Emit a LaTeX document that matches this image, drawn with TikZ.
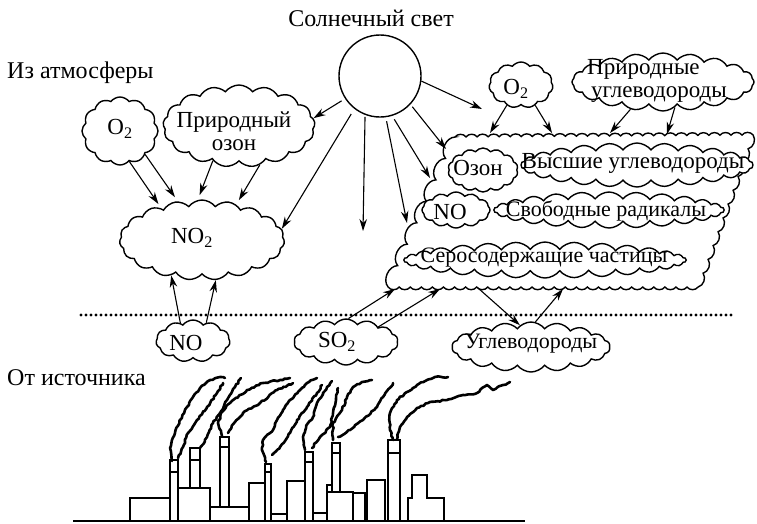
\documentclass[tikz,border=0pt]{standalone}
\usepackage{fontspec}
\setmainfont{Liberation Serif}
\usetikzlibrary{shapes.symbols,arrows.meta,decorations.pathmorphing,calc}

\begin{document}
\begin{tikzpicture}[x=1pt,y=-1pt,
  txt/.style={font=\fontsize{23}{23}\selectfont, inner sep=0pt, align=center},
  bigtxt/.style={font=\fontsize{24}{24}\selectfont, inner sep=0pt},
  smalltxt/.style={font=\fontsize{22}{22}\selectfont},
  puff/.style={cloud, draw, fill=white, line width=1.4pt, cloud ignores aspect,
               cloud puff arc=105, inner sep=0pt},
  arr/.style={line width=1.1pt, -{Stealth[length=12pt,width=7.5pt]}},
  bld/.style={line width=1.4pt, fill=white},
  smoke/.style={line width=2.6pt, line cap=round, line join=round, decorate,
                decoration={random steps, segment length=2.5pt, amplitude=0.8pt}},
  dots/.style={line width=3.3pt, line cap=round, dash pattern=on 0pt off 5pt}
]
\useasboundingbox (0,0) rectangle (757,523);
\pgfmathsetseed{11}

% --- labels -------------------------------------------------------------
\node[bigtxt] (sunlabel) at (371,18) {Солнечный свет};
\node[bigtxt, anchor=west] (atm) at (7,73) {Из атмосферы};
\node[bigtxt, anchor=west] (src) at (7,378) {От источника};

% --- sun ----------------------------------------------------------------
\node[circle, draw, line width=1.4pt, minimum size=82pt, inner sep=0pt] (sun) at (380,76) {};

% --- upper-left clouds --------------------------------------------------
\node[puff, minimum width=76pt, minimum height=68pt, cloud puffs=12,
      label={[txt, yshift=2pt]center:O\textsubscript{2}}] (o2a) at (120,131) {};
\node[puff, minimum width=152pt, minimum height=82pt, cloud puffs=17,
      label={[txt, xshift=-5pt, yshift=-5pt]center:{Природный\\озон}}] (ozn) at (239,126) {};
\node[puff, minimum width=165pt, minimum height=80pt, cloud puffs=19,
      label={[txt, xshift=-10pt, yshift=2pt]center:NO\textsubscript{2}}] (no2) at (202,240) {};

% --- upper-right clouds -------------------------------------------------
\node[puff, minimum width=64pt, minimum height=46pt, cloud puffs=11,
      label={[txt, xshift=-5pt, yshift=-4pt]center:O\textsubscript{2}}] (o2b) at (521,85) {};
\node[puff, minimum width=182pt, minimum height=58pt, cloud puffs=20,
      label={[txt, align=left, xshift=-6pt, yshift=1pt]center:{Природные\\\,углеводороды}}] (pnu) at (663,82) {};

% --- large reaction cloud -----------------------------------------------
\draw[line width=1.4pt, fill=white] (455,137)
  \foreach \i in {1,...,27}{ to[bend left=55] ++(11.04,-0.074) }
  \foreach \i in {1,...,11}{ to[bend left=55] ++(-5,13.82) }
  \foreach \i in {1,...,28}{ to[bend left=55] ++(-11.07,0) }
  \foreach \i in {1,...,7}{ to[bend left=65] ++(9.57,-21.43) }
  -- cycle;
\coordinate (bcO2a) at (490,133);
\coordinate (bcO2b) at (552,133);
\coordinate (bcP1)  at (610,133);
\coordinate (bcP2)  at (667,134);
\coordinate (bcS5)  at (446,149);
\coordinate (bcS6)  at (430,178);
\coordinate (bcS7)  at (407,223);
\coordinate (bcSa)  at (395,289);
\coordinate (bcSb)  at (440,289);
\coordinate (bcUo)  at (478,288);
\coordinate (bcUi)  at (563,289);

\node[puff, minimum width=70pt, minimum height=44pt, cloud puffs=14,
      label={[txt, xshift=-5pt, yshift=2pt]center:Озон}] (ozon) at (483,170) {};
\node[puff, minimum width=232pt, minimum height=44pt, cloud puffs=26,
      label={[txt, xshift=-4pt, yshift=2pt]center:Высшие углеводороды}] (vu) at (637,165) {};
\node[puff, minimum width=68pt, minimum height=36pt, cloud puffs=12,
      label={[txt, xshift=-6pt, yshift=-2pt]center:NO}] (noi) at (456,210) {};
\node[puff, minimum width=230pt, minimum height=36pt, cloud puffs=26,
      label={[txt, smalltxt, xshift=-3pt, yshift=-1pt]center:Свободные радикалы}] (sr) at (609,210) {};
\node[puff, minimum width=282pt, minimum height=36pt, cloud puffs=30,
      label={[txt, smalltxt, xshift=-1pt, yshift=2pt]center:Серосодержащие частицы}] (ssc) at (545,260) {};

% --- emitted clouds -----------------------------------------------------
\node[puff, minimum width=74pt, minimum height=42pt, cloud puffs=11,
      label={[txt, xshift=-7pt, yshift=-2pt]center:NO}] (nob) at (193,341) {};
\node[puff, minimum width=104pt, minimum height=46pt, cloud puffs=14,
      label={[txt, xshift=-9pt]center:SO\textsubscript{2}}] (so2) at (346,342) {};
\node[puff, minimum width=158pt, minimum height=50pt, cloud puffs=18,
      label={[txt, smalltxt, yshift=3pt]center:Углеводороды}] (ugl) at (531,347) {};

% --- boundary between atmosphere and source -----------------------------
\coordinate (dotL) at (81,315);
\coordinate (dotR) at (732,315);
\draw[dots] (dotL) -- (dotR);

% --- sunlight -----------------------------------------------------------
\coordinate (sdown) at (363,231);
\coordinate (sfree) at (482,109);
\draw[arr, shorten <=4pt] (sun.213) -- (ozn.6);
\draw[arr, shorten <=6pt] (sun.232) -- (no2.8);
\draw[arr, shorten <=2pt] (sun.249) -- (sdown);
\draw[arr] (sun.353) -- (sfree);
\draw[arr, shorten <=3pt] (sun.317) -- (bcS5);
\draw[arr, shorten <=4pt] (sun.287) -- (bcS6);
\draw[arr, shorten <=4pt] (sun.278) -- (bcS7);

% --- reactions ----------------------------------------------------------
\draw[arr, shorten >=5pt] (o2a.-73) -- (no2.142);
\draw[arr, shorten >=5pt] (o2a.-43) -- (no2.122);
\draw[arr, shorten >=5pt] (ozn.-127) -- (no2.96);
\draw[arr, shorten >=5pt] (ozn.-62) -- (no2.46);
\draw[arr] (nob.125) -- (no2.-131);
\draw[arr] (nob.54) -- (no2.-71);
\draw[arr] (o2b.-125) -- (bcO2a);
\draw[arr] (o2b.-55) -- (bcO2b);
\draw[arr] (pnu.-140) -- (bcP1);
\draw[arr] (pnu.-65) -- (bcP2);
\draw[arr] (so2.84) -- (bcSa);
\draw[arr] (so2.25) -- (bcSb);
\draw[arr] (bcUo) -- (ugl.117);
\draw[arr] (ugl.80) -- (bcUi);

% --- factory ------------------------------------------------------------
% buildings
\draw[bld] (130,498) rectangle (170,521);
\draw[bld] (178,488) rectangle (210,521);
\draw[bld] (210,507) rectangle (249,521);
\draw[bld] (249,483) rectangle (265,521);
\draw[bld] (271,514) rectangle (287,521);
\draw[bld] (287,481) rectangle (305,521);
\draw[bld] (313,513) rectangle (327,521);
\draw[bld] (327,485) rectangle (332,492);
\draw[bld] (327,492) rectangle (353,521);
\draw[bld] (353,493) rectangle (365,521);
\draw[bld] (367,480) rectangle (385,521);
\draw[bld] (408,521) -- (408,498) -- (412,498) -- (412,475) -- (427,475)
  -- (427,498) -- (444,498) -- (444,521);
% chimneys with caps
\foreach \xa/\xb/\top/\cap/\bot in {170/178/460/472/521, 190/200/448/460/488,
    220/229/437/447/507, 265/271/464/472/521, 305/313/452/462/521,
    332/340/443/453/492, 388/400/440/453/521}{
  \draw[bld] (\xa,\top) rectangle (\xb,\bot);
  \draw[line width=1.4pt] (\xa,\cap) -- (\xb,\cap);
}
\draw[line width=1.4pt] (73,521) -- (525,521);

% smoke plumes
\draw[smoke] plot coordinates {(172,461) (170,448) (175,433) (180,420) (187,407) (193,397) (200,388) (210,380) (220,377) (225,378)};
\draw[smoke] plot coordinates {(178,458) (183,447) (188,433) (197,420) (207,407) (217,393) (223,383)};
\draw[smoke] plot coordinates {(200,448) (207,437) (213,423) (220,413) (227,400) (235,387) (241,378)};
\draw[smoke] plot coordinates {(222,436) (218,423) (222,412) (230,403) (247,390) (263,383) (280,380) (290,378)};
\draw[smoke] plot coordinates {(228,433) (235,422) (243,413) (260,403) (277,390) (293,383)};
\draw[smoke] plot coordinates {(266,462) (262,450) (263,440) (273,430) (277,420) (283,410) (290,400) (300,390) (307,383) (317,378)};
\draw[smoke] plot coordinates {(272,455) (280,447) (290,433) (297,420) (307,407) (317,393) (322,385)};
\draw[smoke] plot coordinates {(305,450) (303,437) (308,423) (313,417) (317,403) (323,393) (327,387) (332,381)};
\draw[smoke] plot coordinates {(312,448) (320,437) (330,427) (333,413) (336,400) (338,388)};
\draw[smoke] plot coordinates {(333,440) (333,423) (342,410) (347,397) (353,387) (362,382) (372,380)};
\draw[smoke] plot coordinates {(338,437) (350,430) (363,420) (377,407) (383,397) (393,383)};
\draw[smoke] plot coordinates {(393,440) (390,430) (390,413) (397,400) (407,392) (417,385) (427,380) (435,377) (448,377)};
\draw[smoke] plot coordinates {(397,439) (400,427) (407,417) (417,408) (430,402) (447,400) (463,395) (477,393) (487,385) (493,390) (503,385) (510,382)};
\end{tikzpicture}
\end{document}
